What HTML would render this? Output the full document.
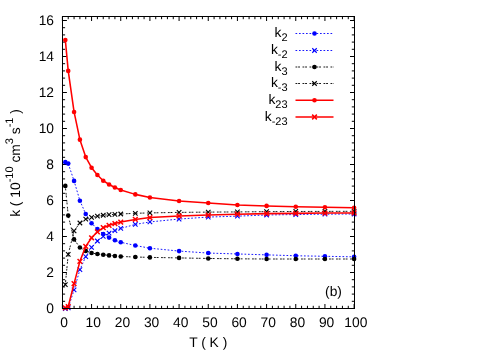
<!DOCTYPE html>
<html><head><meta charset="utf-8"><title>chart</title>
<style>html,body{margin:0;padding:0;background:#fff;}body{width:500px;height:350px;overflow:hidden;position:relative;font-family:"Liberation Sans",sans-serif;}</style>
</head><body>
<svg width="500" height="350" viewBox="0 0 500 350" style="position:absolute;left:0;top:0;will-change:transform">
<rect width="500" height="350" fill="#fff"/>
<path d="M62.40 308.5v-4.5M62.40 16.5v4.5M68.23 308.5v-2.7M68.23 16.5v2.7M74.07 308.5v-2.7M74.07 16.5v2.7M79.90 308.5v-2.7M79.90 16.5v2.7M85.74 308.5v-2.7M85.74 16.5v2.7M91.57 308.5v-4.5M91.57 16.5v4.5M97.40 308.5v-2.7M97.40 16.5v2.7M103.24 308.5v-2.7M103.24 16.5v2.7M109.07 308.5v-2.7M109.07 16.5v2.7M114.91 308.5v-2.7M114.91 16.5v2.7M120.74 308.5v-4.5M120.74 16.5v4.5M126.57 308.5v-2.7M126.57 16.5v2.7M132.41 308.5v-2.7M132.41 16.5v2.7M138.24 308.5v-2.7M138.24 16.5v2.7M144.08 308.5v-2.7M144.08 16.5v2.7M149.91 308.5v-4.5M149.91 16.5v4.5M155.74 308.5v-2.7M155.74 16.5v2.7M161.58 308.5v-2.7M161.58 16.5v2.7M167.41 308.5v-2.7M167.41 16.5v2.7M173.25 308.5v-2.7M173.25 16.5v2.7M179.08 308.5v-4.5M179.08 16.5v4.5M184.91 308.5v-2.7M184.91 16.5v2.7M190.75 308.5v-2.7M190.75 16.5v2.7M196.58 308.5v-2.7M196.58 16.5v2.7M202.42 308.5v-2.7M202.42 16.5v2.7M208.25 308.5v-4.5M208.25 16.5v4.5M214.08 308.5v-2.7M214.08 16.5v2.7M219.92 308.5v-2.7M219.92 16.5v2.7M225.75 308.5v-2.7M225.75 16.5v2.7M231.59 308.5v-2.7M231.59 16.5v2.7M237.42 308.5v-4.5M237.42 16.5v4.5M243.25 308.5v-2.7M243.25 16.5v2.7M249.09 308.5v-2.7M249.09 16.5v2.7M254.92 308.5v-2.7M254.92 16.5v2.7M260.76 308.5v-2.7M260.76 16.5v2.7M266.59 308.5v-4.5M266.59 16.5v4.5M272.42 308.5v-2.7M272.42 16.5v2.7M278.26 308.5v-2.7M278.26 16.5v2.7M284.09 308.5v-2.7M284.09 16.5v2.7M289.93 308.5v-2.7M289.93 16.5v2.7M295.76 308.5v-4.5M295.76 16.5v4.5M301.59 308.5v-2.7M301.59 16.5v2.7M307.43 308.5v-2.7M307.43 16.5v2.7M313.26 308.5v-2.7M313.26 16.5v2.7M319.10 308.5v-2.7M319.10 16.5v2.7M324.93 308.5v-4.5M324.93 16.5v4.5M330.76 308.5v-2.7M330.76 16.5v2.7M336.60 308.5v-2.7M336.60 16.5v2.7M342.43 308.5v-2.7M342.43 16.5v2.7M348.27 308.5v-2.7M348.27 16.5v2.7M354.10 308.5v-4.5M354.10 16.5v4.5M62.4 308.50h4.5M354.5 308.50h-4.5M62.4 301.30h2.7M354.5 301.30h-2.7M62.4 294.10h2.7M354.5 294.10h-2.7M62.4 286.90h2.7M354.5 286.90h-2.7M62.4 279.70h2.7M354.5 279.70h-2.7M62.4 272.50h4.5M354.5 272.50h-4.5M62.4 265.30h2.7M354.5 265.30h-2.7M62.4 258.10h2.7M354.5 258.10h-2.7M62.4 250.90h2.7M354.5 250.90h-2.7M62.4 243.70h2.7M354.5 243.70h-2.7M62.4 236.50h4.5M354.5 236.50h-4.5M62.4 229.30h2.7M354.5 229.30h-2.7M62.4 222.10h2.7M354.5 222.10h-2.7M62.4 214.90h2.7M354.5 214.90h-2.7M62.4 207.70h2.7M354.5 207.70h-2.7M62.4 200.50h4.5M354.5 200.50h-4.5M62.4 193.30h2.7M354.5 193.30h-2.7M62.4 186.10h2.7M354.5 186.10h-2.7M62.4 178.90h2.7M354.5 178.90h-2.7M62.4 171.70h2.7M354.5 171.70h-2.7M62.4 164.50h4.5M354.5 164.50h-4.5M62.4 157.30h2.7M354.5 157.30h-2.7M62.4 150.10h2.7M354.5 150.10h-2.7M62.4 142.90h2.7M354.5 142.90h-2.7M62.4 135.70h2.7M354.5 135.70h-2.7M62.4 128.50h4.5M354.5 128.50h-4.5M62.4 121.30h2.7M354.5 121.30h-2.7M62.4 114.10h2.7M354.5 114.10h-2.7M62.4 106.90h2.7M354.5 106.90h-2.7M62.4 99.70h2.7M354.5 99.70h-2.7M62.4 92.50h4.5M354.5 92.50h-4.5M62.4 85.30h2.7M354.5 85.30h-2.7M62.4 78.10h2.7M354.5 78.10h-2.7M62.4 70.90h2.7M354.5 70.90h-2.7M62.4 63.70h2.7M354.5 63.70h-2.7M62.4 56.50h4.5M354.5 56.50h-4.5M62.4 49.30h2.7M354.5 49.30h-2.7M62.4 42.10h2.7M354.5 42.10h-2.7M62.4 34.90h2.7M354.5 34.90h-2.7M62.4 27.70h2.7M354.5 27.70h-2.7M62.4 20.50h4.5M354.5 20.50h-4.5" stroke="#000" stroke-width="1" fill="none"/>
<polyline points="65.32,162.16 68.23,163.60 74.07,180.88 79.90,200.68 85.74,214.00 91.57,223.18 97.40,229.12 103.24,233.98 109.07,237.58 114.91,240.28 120.74,242.26 135.32,245.50 149.91,248.20 179.08,251.08 208.25,253.06 237.42,253.96 266.59,254.86 295.76,255.76 324.93,256.30 354.10,256.84" fill="none" stroke="#0000ff" stroke-width="0.9" stroke-dasharray="1.7 1.8" stroke-linejoin="round"/>
<circle cx="65.32" cy="162.16" r="2.3" fill="#0000ff"/>
<circle cx="68.23" cy="163.60" r="2.3" fill="#0000ff"/>
<circle cx="74.07" cy="180.88" r="2.3" fill="#0000ff"/>
<circle cx="79.90" cy="200.68" r="2.3" fill="#0000ff"/>
<circle cx="85.74" cy="214.00" r="2.3" fill="#0000ff"/>
<circle cx="91.57" cy="223.18" r="2.3" fill="#0000ff"/>
<circle cx="97.40" cy="229.12" r="2.3" fill="#0000ff"/>
<circle cx="103.24" cy="233.98" r="2.3" fill="#0000ff"/>
<circle cx="109.07" cy="237.58" r="2.3" fill="#0000ff"/>
<circle cx="114.91" cy="240.28" r="2.3" fill="#0000ff"/>
<circle cx="120.74" cy="242.26" r="2.3" fill="#0000ff"/>
<circle cx="135.32" cy="245.50" r="2.3" fill="#0000ff"/>
<circle cx="149.91" cy="248.20" r="2.3" fill="#0000ff"/>
<circle cx="179.08" cy="251.08" r="2.3" fill="#0000ff"/>
<circle cx="208.25" cy="253.06" r="2.3" fill="#0000ff"/>
<circle cx="237.42" cy="253.96" r="2.3" fill="#0000ff"/>
<circle cx="266.59" cy="254.86" r="2.3" fill="#0000ff"/>
<circle cx="295.76" cy="255.76" r="2.3" fill="#0000ff"/>
<circle cx="324.93" cy="256.30" r="2.3" fill="#0000ff"/>
<circle cx="354.10" cy="256.84" r="2.3" fill="#0000ff"/>
<polyline points="65.32,308.50 68.23,307.96 74.07,289.96 79.90,269.62 85.74,256.66 91.57,247.30 97.40,241.00 103.24,236.32 109.07,233.08 114.91,230.56 120.74,228.40 135.32,224.44 149.91,221.92 179.08,219.04 208.25,217.06 237.42,216.16 266.59,214.99 295.76,214.54 324.93,214.18 354.10,214.00" fill="none" stroke="#0000ff" stroke-width="0.9" stroke-dasharray="1.7 1.8" stroke-linejoin="round"/>
<path d="M63.07 306.25L67.57 310.75M63.07 310.75L67.57 306.25" stroke="#0000ff" stroke-width="1.1" fill="none"/>
<path d="M65.98 305.71L70.48 310.21M65.98 310.21L70.48 305.71" stroke="#0000ff" stroke-width="1.1" fill="none"/>
<path d="M71.82 287.71L76.32 292.21M71.82 292.21L76.32 287.71" stroke="#0000ff" stroke-width="1.1" fill="none"/>
<path d="M77.65 267.37L82.15 271.87M77.65 271.87L82.15 267.37" stroke="#0000ff" stroke-width="1.1" fill="none"/>
<path d="M83.49 254.41L87.99 258.91M83.49 258.91L87.99 254.41" stroke="#0000ff" stroke-width="1.1" fill="none"/>
<path d="M89.32 245.05L93.82 249.55M89.32 249.55L93.82 245.05" stroke="#0000ff" stroke-width="1.1" fill="none"/>
<path d="M95.15 238.75L99.65 243.25M95.15 243.25L99.65 238.75" stroke="#0000ff" stroke-width="1.1" fill="none"/>
<path d="M100.99 234.07L105.49 238.57M100.99 238.57L105.49 234.07" stroke="#0000ff" stroke-width="1.1" fill="none"/>
<path d="M106.82 230.83L111.32 235.33M106.82 235.33L111.32 230.83" stroke="#0000ff" stroke-width="1.1" fill="none"/>
<path d="M112.66 228.31L117.16 232.81M112.66 232.81L117.16 228.31" stroke="#0000ff" stroke-width="1.1" fill="none"/>
<path d="M118.49 226.15L122.99 230.65M118.49 230.65L122.99 226.15" stroke="#0000ff" stroke-width="1.1" fill="none"/>
<path d="M133.07 222.19L137.57 226.69M133.07 226.69L137.57 222.19" stroke="#0000ff" stroke-width="1.1" fill="none"/>
<path d="M147.66 219.67L152.16 224.17M147.66 224.17L152.16 219.67" stroke="#0000ff" stroke-width="1.1" fill="none"/>
<path d="M176.83 216.79L181.33 221.29M176.83 221.29L181.33 216.79" stroke="#0000ff" stroke-width="1.1" fill="none"/>
<path d="M206.00 214.81L210.50 219.31M206.00 219.31L210.50 214.81" stroke="#0000ff" stroke-width="1.1" fill="none"/>
<path d="M235.17 213.91L239.67 218.41M235.17 218.41L239.67 213.91" stroke="#0000ff" stroke-width="1.1" fill="none"/>
<path d="M264.34 212.74L268.84 217.24M264.34 217.24L268.84 212.74" stroke="#0000ff" stroke-width="1.1" fill="none"/>
<path d="M293.51 212.29L298.01 216.79M293.51 216.79L298.01 212.29" stroke="#0000ff" stroke-width="1.1" fill="none"/>
<path d="M322.68 211.93L327.18 216.43M322.68 216.43L327.18 211.93" stroke="#0000ff" stroke-width="1.1" fill="none"/>
<path d="M351.85 211.75L356.35 216.25M351.85 216.25L356.35 211.75" stroke="#0000ff" stroke-width="1.1" fill="none"/>
<polyline points="65.32,185.92 68.23,215.62 74.07,239.38 79.90,247.48 85.74,250.90 91.57,253.06 97.40,253.96 103.24,254.68 109.07,255.40 114.91,255.94 120.74,256.48 135.32,257.02 149.91,257.38 179.08,257.92 208.25,258.46 237.42,258.82 266.59,259.00 295.76,259.00 324.93,259.00 354.10,259.00" fill="none" stroke="#000000" stroke-width="0.9" stroke-dasharray="1.8 0.8 1.9 2.5" stroke-linejoin="round"/>
<circle cx="65.32" cy="185.92" r="2.3" fill="#000000"/>
<circle cx="68.23" cy="215.62" r="2.3" fill="#000000"/>
<circle cx="74.07" cy="239.38" r="2.3" fill="#000000"/>
<circle cx="79.90" cy="247.48" r="2.3" fill="#000000"/>
<circle cx="85.74" cy="250.90" r="2.3" fill="#000000"/>
<circle cx="91.57" cy="253.06" r="2.3" fill="#000000"/>
<circle cx="97.40" cy="253.96" r="2.3" fill="#000000"/>
<circle cx="103.24" cy="254.68" r="2.3" fill="#000000"/>
<circle cx="109.07" cy="255.40" r="2.3" fill="#000000"/>
<circle cx="114.91" cy="255.94" r="2.3" fill="#000000"/>
<circle cx="120.74" cy="256.48" r="2.3" fill="#000000"/>
<circle cx="135.32" cy="257.02" r="2.3" fill="#000000"/>
<circle cx="149.91" cy="257.38" r="2.3" fill="#000000"/>
<circle cx="179.08" cy="257.92" r="2.3" fill="#000000"/>
<circle cx="208.25" cy="258.46" r="2.3" fill="#000000"/>
<circle cx="237.42" cy="258.82" r="2.3" fill="#000000"/>
<circle cx="266.59" cy="259.00" r="2.3" fill="#000000"/>
<circle cx="295.76" cy="259.00" r="2.3" fill="#000000"/>
<circle cx="324.93" cy="259.00" r="2.3" fill="#000000"/>
<circle cx="354.10" cy="259.00" r="2.3" fill="#000000"/>
<polyline points="65.32,284.56 68.23,254.32 74.07,230.92 79.90,223.00 85.74,219.22 91.57,217.42 97.40,216.16 103.24,215.26 109.07,214.72 114.91,214.36 120.74,214.00 135.32,213.28 149.91,212.92 179.08,212.38 208.25,212.11 237.42,211.93 266.59,211.66 295.76,211.48 324.93,211.39 354.10,211.30" fill="none" stroke="#000000" stroke-width="0.9" stroke-dasharray="1.8 0.8 1.9 2.5" stroke-linejoin="round"/>
<path d="M63.07 282.31L67.57 286.81M63.07 286.81L67.57 282.31" stroke="#000000" stroke-width="1.1" fill="none"/>
<path d="M65.98 252.07L70.48 256.57M65.98 256.57L70.48 252.07" stroke="#000000" stroke-width="1.1" fill="none"/>
<path d="M71.82 228.67L76.32 233.17M71.82 233.17L76.32 228.67" stroke="#000000" stroke-width="1.1" fill="none"/>
<path d="M77.65 220.75L82.15 225.25M77.65 225.25L82.15 220.75" stroke="#000000" stroke-width="1.1" fill="none"/>
<path d="M83.49 216.97L87.99 221.47M83.49 221.47L87.99 216.97" stroke="#000000" stroke-width="1.1" fill="none"/>
<path d="M89.32 215.17L93.82 219.67M89.32 219.67L93.82 215.17" stroke="#000000" stroke-width="1.1" fill="none"/>
<path d="M95.15 213.91L99.65 218.41M95.15 218.41L99.65 213.91" stroke="#000000" stroke-width="1.1" fill="none"/>
<path d="M100.99 213.01L105.49 217.51M100.99 217.51L105.49 213.01" stroke="#000000" stroke-width="1.1" fill="none"/>
<path d="M106.82 212.47L111.32 216.97M106.82 216.97L111.32 212.47" stroke="#000000" stroke-width="1.1" fill="none"/>
<path d="M112.66 212.11L117.16 216.61M112.66 216.61L117.16 212.11" stroke="#000000" stroke-width="1.1" fill="none"/>
<path d="M118.49 211.75L122.99 216.25M118.49 216.25L122.99 211.75" stroke="#000000" stroke-width="1.1" fill="none"/>
<path d="M133.07 211.03L137.57 215.53M133.07 215.53L137.57 211.03" stroke="#000000" stroke-width="1.1" fill="none"/>
<path d="M147.66 210.67L152.16 215.17M147.66 215.17L152.16 210.67" stroke="#000000" stroke-width="1.1" fill="none"/>
<path d="M176.83 210.13L181.33 214.63M176.83 214.63L181.33 210.13" stroke="#000000" stroke-width="1.1" fill="none"/>
<path d="M206.00 209.86L210.50 214.36M206.00 214.36L210.50 209.86" stroke="#000000" stroke-width="1.1" fill="none"/>
<path d="M235.17 209.68L239.67 214.18M235.17 214.18L239.67 209.68" stroke="#000000" stroke-width="1.1" fill="none"/>
<path d="M264.34 209.41L268.84 213.91M264.34 213.91L268.84 209.41" stroke="#000000" stroke-width="1.1" fill="none"/>
<path d="M293.51 209.23L298.01 213.73M293.51 213.73L298.01 209.23" stroke="#000000" stroke-width="1.1" fill="none"/>
<path d="M322.68 209.14L327.18 213.64M322.68 213.64L327.18 209.14" stroke="#000000" stroke-width="1.1" fill="none"/>
<path d="M351.85 209.05L356.35 213.55M351.85 213.55L356.35 209.05" stroke="#000000" stroke-width="1.1" fill="none"/>
<polyline points="65.32,39.94 68.23,70.90 74.07,111.94 79.90,139.66 85.74,157.12 91.57,167.74 97.40,174.94 103.24,180.70 109.07,184.48 114.91,187.54 120.74,190.06 135.32,194.38 149.91,197.44 179.08,201.04 208.25,203.02 237.42,205.00 266.59,205.90 295.76,206.71 324.93,207.25 354.10,207.70" fill="none" stroke="#ff0000" stroke-width="1.55" stroke-linejoin="round"/>
<circle cx="65.32" cy="39.94" r="2.3" fill="#ff0000"/>
<circle cx="68.23" cy="70.90" r="2.3" fill="#ff0000"/>
<circle cx="74.07" cy="111.94" r="2.3" fill="#ff0000"/>
<circle cx="79.90" cy="139.66" r="2.3" fill="#ff0000"/>
<circle cx="85.74" cy="157.12" r="2.3" fill="#ff0000"/>
<circle cx="91.57" cy="167.74" r="2.3" fill="#ff0000"/>
<circle cx="97.40" cy="174.94" r="2.3" fill="#ff0000"/>
<circle cx="103.24" cy="180.70" r="2.3" fill="#ff0000"/>
<circle cx="109.07" cy="184.48" r="2.3" fill="#ff0000"/>
<circle cx="114.91" cy="187.54" r="2.3" fill="#ff0000"/>
<circle cx="120.74" cy="190.06" r="2.3" fill="#ff0000"/>
<circle cx="135.32" cy="194.38" r="2.3" fill="#ff0000"/>
<circle cx="149.91" cy="197.44" r="2.3" fill="#ff0000"/>
<circle cx="179.08" cy="201.04" r="2.3" fill="#ff0000"/>
<circle cx="208.25" cy="203.02" r="2.3" fill="#ff0000"/>
<circle cx="237.42" cy="205.00" r="2.3" fill="#ff0000"/>
<circle cx="266.59" cy="205.90" r="2.3" fill="#ff0000"/>
<circle cx="295.76" cy="206.71" r="2.3" fill="#ff0000"/>
<circle cx="324.93" cy="207.25" r="2.3" fill="#ff0000"/>
<circle cx="354.10" cy="207.70" r="2.3" fill="#ff0000"/>
<polyline points="65.32,307.96 68.23,306.52 74.07,283.66 79.90,261.34 85.74,246.40 91.57,237.76 97.40,231.82 103.24,227.68 109.07,225.34 114.91,223.54 120.74,222.10 135.32,219.40 149.91,217.60 179.08,215.98 208.25,215.08 237.42,214.18 266.59,213.64 295.76,213.37 324.93,213.10 354.10,212.92" fill="none" stroke="#ff0000" stroke-width="1.55" stroke-linejoin="round"/>
<path d="M62.97 305.61L67.67 310.31M62.97 310.31L67.67 305.61" stroke="#ff0000" stroke-width="1.5" fill="none"/>
<path d="M65.88 304.17L70.58 308.87M65.88 308.87L70.58 304.17" stroke="#ff0000" stroke-width="1.5" fill="none"/>
<path d="M71.72 281.31L76.42 286.01M71.72 286.01L76.42 281.31" stroke="#ff0000" stroke-width="1.5" fill="none"/>
<path d="M77.55 258.99L82.25 263.69M77.55 263.69L82.25 258.99" stroke="#ff0000" stroke-width="1.5" fill="none"/>
<path d="M83.39 244.05L88.09 248.75M83.39 248.75L88.09 244.05" stroke="#ff0000" stroke-width="1.5" fill="none"/>
<path d="M89.22 235.41L93.92 240.11M89.22 240.11L93.92 235.41" stroke="#ff0000" stroke-width="1.5" fill="none"/>
<path d="M95.05 229.47L99.75 234.17M95.05 234.17L99.75 229.47" stroke="#ff0000" stroke-width="1.5" fill="none"/>
<path d="M100.89 225.33L105.59 230.03M100.89 230.03L105.59 225.33" stroke="#ff0000" stroke-width="1.5" fill="none"/>
<path d="M106.72 222.99L111.42 227.69M106.72 227.69L111.42 222.99" stroke="#ff0000" stroke-width="1.5" fill="none"/>
<path d="M112.56 221.19L117.26 225.89M112.56 225.89L117.26 221.19" stroke="#ff0000" stroke-width="1.5" fill="none"/>
<path d="M118.39 219.75L123.09 224.45M118.39 224.45L123.09 219.75" stroke="#ff0000" stroke-width="1.5" fill="none"/>
<path d="M132.97 217.05L137.67 221.75M132.97 221.75L137.67 217.05" stroke="#ff0000" stroke-width="1.5" fill="none"/>
<path d="M147.56 215.25L152.26 219.95M147.56 219.95L152.26 215.25" stroke="#ff0000" stroke-width="1.5" fill="none"/>
<path d="M176.73 213.63L181.43 218.33M176.73 218.33L181.43 213.63" stroke="#ff0000" stroke-width="1.5" fill="none"/>
<path d="M205.90 212.73L210.60 217.43M205.90 217.43L210.60 212.73" stroke="#ff0000" stroke-width="1.5" fill="none"/>
<path d="M235.07 211.83L239.77 216.53M235.07 216.53L239.77 211.83" stroke="#ff0000" stroke-width="1.5" fill="none"/>
<path d="M264.24 211.29L268.94 215.99M264.24 215.99L268.94 211.29" stroke="#ff0000" stroke-width="1.5" fill="none"/>
<path d="M293.41 211.02L298.11 215.72M293.41 215.72L298.11 211.02" stroke="#ff0000" stroke-width="1.5" fill="none"/>
<path d="M322.58 210.75L327.28 215.45M322.58 215.45L327.28 210.75" stroke="#ff0000" stroke-width="1.5" fill="none"/>
<path d="M351.75 210.57L356.45 215.27M351.75 215.27L356.45 210.57" stroke="#ff0000" stroke-width="1.5" fill="none"/>
<line x1="295.5" y1="33.50" x2="333.5" y2="33.50" stroke="#0000ff" stroke-width="0.9" stroke-dasharray="1.7 1.8"/>
<circle cx="314.50" cy="33.50" r="2.3" fill="#0000ff"/>
<line x1="295.5" y1="50.50" x2="333.5" y2="50.50" stroke="#0000ff" stroke-width="0.9" stroke-dasharray="1.7 1.8"/>
<path d="M312.25 48.25L316.75 52.75M312.25 52.75L316.75 48.25" stroke="#0000ff" stroke-width="1.1" fill="none"/>
<line x1="295.5" y1="67.00" x2="333.5" y2="67.00" stroke="#000000" stroke-width="0.9" stroke-dasharray="1.8 0.8 1.9 2.5"/>
<circle cx="314.50" cy="67.00" r="2.3" fill="#000000"/>
<line x1="295.5" y1="83.50" x2="333.5" y2="83.50" stroke="#000000" stroke-width="0.9" stroke-dasharray="1.8 0.8 1.9 2.5"/>
<path d="M312.25 81.25L316.75 85.75M312.25 85.75L316.75 81.25" stroke="#000000" stroke-width="1.1" fill="none"/>
<line x1="295.5" y1="100.30" x2="333.5" y2="100.30" stroke="#ff0000" stroke-width="1.55"/>
<circle cx="314.50" cy="100.30" r="2.3" fill="#ff0000"/>
<line x1="295.5" y1="117.00" x2="333.5" y2="117.00" stroke="#ff0000" stroke-width="1.55"/>
<path d="M312.15 114.65L316.85 119.35M312.15 119.35L316.85 114.65" stroke="#ff0000" stroke-width="1.5" fill="none"/>
<rect x="62.5" y="16.5" width="292" height="292" fill="none" stroke="#000" stroke-width="1"/>
<g font-family="Liberation Sans, sans-serif" font-size="13.8" fill="#000" style="text-rendering:geometricPrecision">
<text x="64.10" y="327" text-anchor="middle">0</text>
<text x="93.27" y="327" text-anchor="middle">10</text>
<text x="122.44" y="327" text-anchor="middle">20</text>
<text x="151.61" y="327" text-anchor="middle">30</text>
<text x="180.78" y="327" text-anchor="middle">40</text>
<text x="209.95" y="327" text-anchor="middle">50</text>
<text x="239.12" y="327" text-anchor="middle">60</text>
<text x="268.29" y="327" text-anchor="middle">70</text>
<text x="297.46" y="327" text-anchor="middle">80</text>
<text x="326.63" y="327" text-anchor="middle">90</text>
<text x="355.80" y="327" text-anchor="middle">100</text>
<text x="54" y="312.70" text-anchor="end">0</text>
<text x="54" y="276.70" text-anchor="end">2</text>
<text x="54" y="240.70" text-anchor="end">4</text>
<text x="54" y="204.70" text-anchor="end">6</text>
<text x="54" y="168.70" text-anchor="end">8</text>
<text x="54" y="132.70" text-anchor="end">10</text>
<text x="54" y="96.70" text-anchor="end">12</text>
<text x="54" y="60.70" text-anchor="end">14</text>
<text x="54" y="24.70" text-anchor="end">16</text>
<text x="208.2" y="347.1" text-anchor="middle">T ( K )</text>
<text x="333.5" y="295.8" text-anchor="middle">(b)</text>
<text x="287.6" y="37.00" text-anchor="end">k<tspan font-size="11" dy="4.2">2</tspan></text>
<text x="287.6" y="54.00" text-anchor="end">k<tspan font-size="11" dy="4.2">-2</tspan></text>
<text x="287.6" y="70.50" text-anchor="end">k<tspan font-size="11" dy="4.2">3</tspan></text>
<text x="287.6" y="87.00" text-anchor="end">k<tspan font-size="11" dy="4.2">-3</tspan></text>
<text x="287.6" y="103.80" text-anchor="end">k<tspan font-size="11" dy="4.2">23</tspan></text>
<text x="287.6" y="120.50" text-anchor="end">k<tspan font-size="11" dy="4.2">-23</tspan></text>
<text transform="translate(20,163) rotate(-90)" text-anchor="middle">k ( 10<tspan font-size="11" dy="-7">-10</tspan><tspan dy="7"> cm</tspan><tspan font-size="11" dy="-7">3</tspan><tspan dy="7"> s</tspan><tspan font-size="11" dy="-7">-1</tspan><tspan dy="7"> )</tspan></text>
</g>
</svg>
</body></html>
